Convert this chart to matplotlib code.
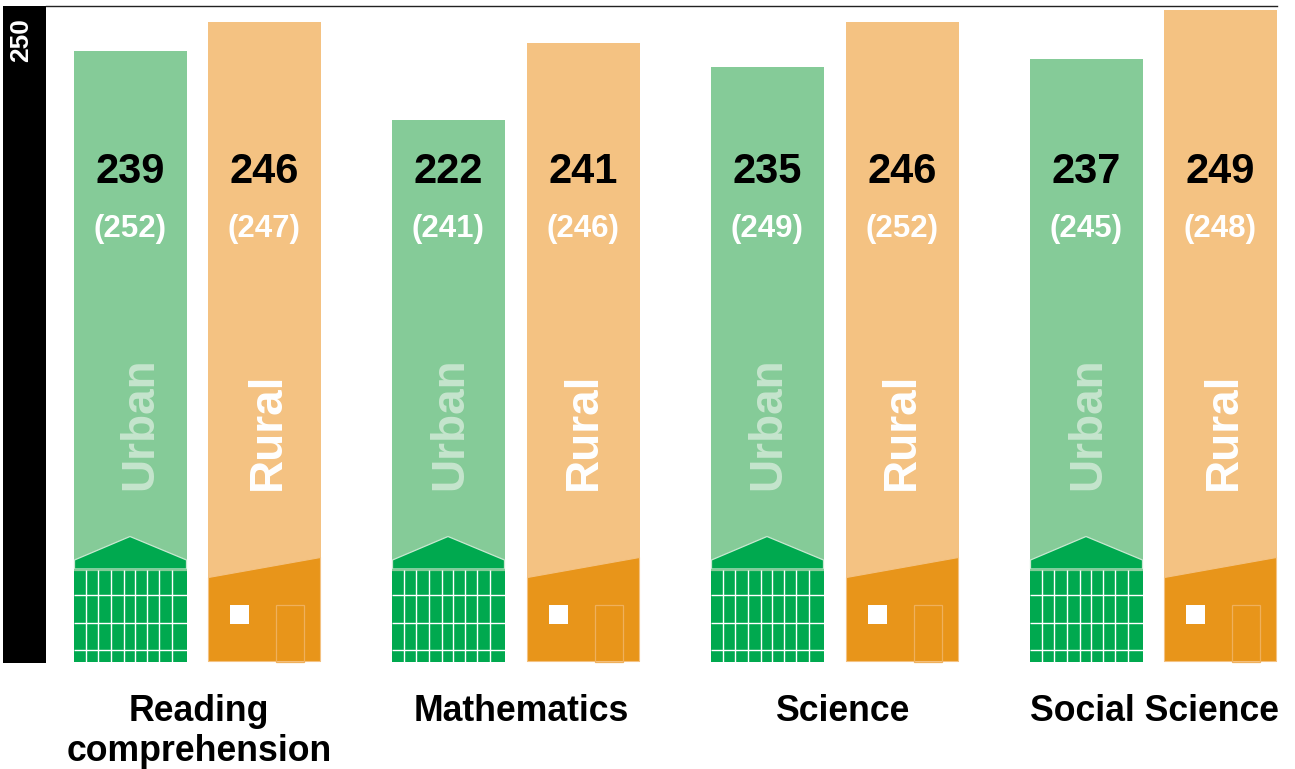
import matplotlib
matplotlib.use("Agg")
import matplotlib.pyplot as plt
from matplotlib.patches import Polygon, Rectangle

plt.rcParams['font.family'] = ['Liberation Sans', 'DejaVu Sans']

subjects = ["Reading\ncomprehension", "Mathematics", "Science", "Social Science"]
urban = [239, 222, 235, 237]
rural = [246, 241, 246, 249]
urban_prev = [252, 241, 249, 245]
rural_prev = [247, 246, 252, 248]

GREEN = "#00A94F"
GREEN_LIGHT = "#85CB98"
ORANGE = "#E8951A"
ORANGE_LIGHT = "#F4C282"
W, H = 1295, 769
BAR_W = 113
PX_PER_UNIT = 4.06
urban_x = [74, 392, 711, 1030]
rural_x = [208, 527, 846, 1164]
label_x = [199, 521, 842, 1154]
# the word labels don't sit at the same spot in every group
urban_word_dx = [66, 58, 57, 58]
rural_word_dx = [60, 57, 56, 60]


def to_value(py):
    return 250 - (py - 6.2) / PX_PER_UNIT


def draw_school(ax, x):
    ax.add_patch(Polygon([(x + 0.5, 560), (x + 56, 536.5), (x + BAR_W - 0.5, 560), (x + BAR_W - 0.5, 569), (x + 0.5, 569)],
                         fc=GREEN, ec="#C8E8D0", lw=0.9, zorder=3))
    ax.add_patch(Rectangle((x, 569), BAR_W, 93, fc=GREEN, ec="none", zorder=3))
    ax.plot([x, x + BAR_W], [569.5, 569.5], color=GREEN_LIGHT, lw=1.6, zorder=4, solid_capstyle="butt")
    for dx in [12.3, 24.3, 37.3, 49.7, 61.3, 73.3, 85.3, 98.3]:
        ax.plot([x + dx, x + dx], [570, 662], color="white", lw=1.0, zorder=4, solid_capstyle="butt")
    for py in [595.3, 623.3, 650.3]:
        ax.plot([x, x + BAR_W], [py, py], color="white", lw=1.0, zorder=4, solid_capstyle="butt")


def draw_house(ax, x):
    ax.add_patch(Polygon([(x + 0.5, 577.5), (x + BAR_W - 0.5, 557.5), (x + BAR_W - 0.5, 661.5), (x + 0.5, 661.5)],
                         fc=ORANGE, ec=ORANGE_LIGHT, lw=0.8, zorder=3))
    ax.add_patch(Rectangle((x + 22, 605), 19, 19, fc="white", ec="none", zorder=4))
    ax.add_patch(Rectangle((x + 68, 604.5), 28, 57, fc="none", ec="#EFB05C", lw=0.9, zorder=4))


fig = plt.figure(figsize=(W / 100, H / 100), dpi=100)
ax = fig.add_axes([0, 0, 1, 1])
ax.set_xlim(0, W)
ax.set_ylim(to_value(H), to_value(0))
ax.axis("off")

base = to_value(662)
ax.bar(urban_x, [v - base for v in urban], width=BAR_W, bottom=base, align="edge", color=GREEN_LIGHT)
ax.bar(rural_x, [v - base for v in rural], width=BAR_W, bottom=base, align="edge", color=ORANGE_LIGHT)

# pixel overlay for the icons, axis strip and labels
over = fig.add_axes([0, 0, 1, 1])
over.set_xlim(0, W)
over.set_ylim(H, 0)
over.axis("off")
over.patch.set_alpha(0)

over.add_patch(Rectangle((3, 6), 43, 657, fc="black", ec="none"))
over.plot([46, 1277], [6.4, 6.4], color="#222222", lw=1)
over.text(21, 62, "250", color="white", fontsize=19, fontweight="bold",
          rotation=90, ha="center", va="bottom")

for i, name in enumerate(subjects):
    ux, rx = urban_x[i], rural_x[i]
    draw_school(over, ux)
    draw_house(over, rx)
    for x, val, prev in [(ux, urban[i], urban_prev[i]), (rx, rural[i], rural_prev[i])]:
        over.text(x + 56.5, 172, str(val), color="black", fontsize=30, fontweight="bold",
                  ha="center", va="center", zorder=5)
        over.text(x + 56, 229, f"({prev})", color="white", fontsize=22.5, fontweight="bold",
                  ha="center", va="center", zorder=5)
    over.text(ux + urban_word_dx[i], 490, "Urban", color="#C5E5CD", fontsize=33, fontweight="bold",
              rotation=90, ha="center", va="bottom", zorder=5)
    over.text(rx + rural_word_dx[i], 490, "Rural", color="white", fontsize=33, fontweight="bold",
              rotation=90, ha="center", va="bottom", zorder=5)
    over.text(label_x[i], 694, name, color="black", fontsize=25.7, fontweight="bold",
              ha="center", va="top", linespacing=1.18)

fig.savefig("out.png", dpi=100, facecolor="white")
